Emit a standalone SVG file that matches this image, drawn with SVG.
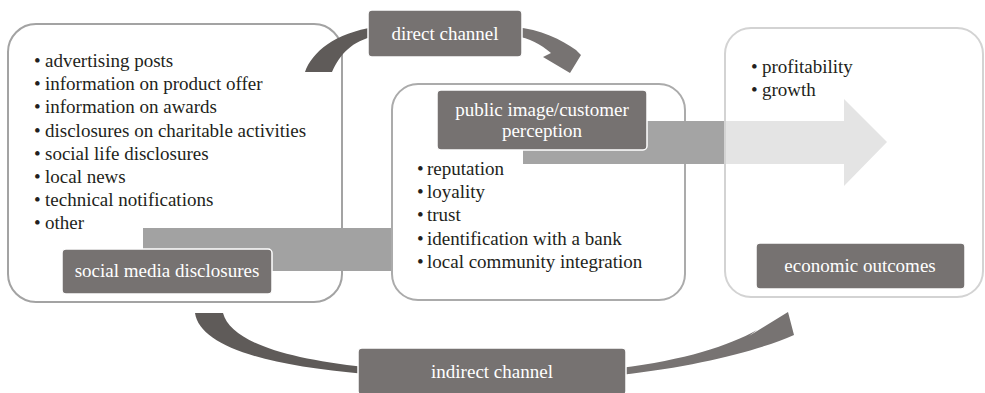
<svg xmlns="http://www.w3.org/2000/svg" width="985" height="393" viewBox="0 0 985 393">
<style>
.box{fill:#ffffff;stroke-width:2}
.lbl{fill:#767271;stroke:#ffffff;stroke-width:1.5}
.lt{font-size:19px;fill:#ffffff;text-anchor:middle}
.tx{font-size:19px;fill:#231f20}
.dark{fill:#5f5b59}
.mid{fill:#777372}
</style>
<rect width="985" height="393" fill="#ffffff"/>
<g font-family="Liberation Serif, Tinos, Times New Roman, DejaVu Serif, serif">
<g id="social-media-box">
<rect class="box" x="8" y="24" width="334" height="278" rx="28" stroke="#a3a3a3"/>
<g class="tx">
<text x="34" y="67">•</text><text x="45" y="67">advertising posts</text>
<text x="34" y="90">•</text><text x="45" y="90">information on product offer</text>
<text x="34" y="113">•</text><text x="45" y="113">information on awards</text>
<text x="34" y="137">•</text><text x="45" y="137">disclosures on charitable activities</text>
<text x="34" y="160">•</text><text x="45" y="160">social life disclosures</text>
<text x="34" y="183">•</text><text x="45" y="183">local news</text>
<text x="34" y="206">•</text><text x="45" y="206">technical notifications</text>
<text x="34" y="229">•</text><text x="45" y="229">other</text>
</g>
</g>
<g id="public-image-box">
<rect class="box" x="392" y="84" width="293" height="216" rx="26" stroke="#ababab"/>
<g class="tx">
<text x="417" y="175">•</text><text x="427" y="175">reputation</text>
<text x="417" y="198">•</text><text x="427" y="198">loyality</text>
<text x="417" y="221">•</text><text x="427" y="221">trust</text>
<text x="417" y="245">•</text><text x="427" y="245">identification with a bank</text>
<text x="417" y="268">•</text><text x="427" y="268">local community integration</text>
</g>
</g>
<g id="connectors">
<rect x="143" y="228" width="248" height="43" fill="#a2a2a2"/>
<polygon points="523,121 844,121 844,99 887,142 844,186 844,164 523,164" fill="#a4a4a4"/>
<path class="dark" d="M305,72 C312,52 335,33 375,27 L375,36 C352,41 340,54 332,72 Z"/>
<path class="mid" d="M515,27 C540,29 562,40 576,50 L581,55 L570,73 L543,57 L551,53 C540,44 530,38 515,36 Z"/>
<path class="dark" d="M195,313 C200,345 260,365 365,374 L365,367 C280,358 230,340 223,313 Z"/>
<path class="mid" d="M620,368 C685,360 728,346 757,330 L749,336 L788,312 L794,335 C760,350 700,366 620,375 Z"/>
</g>
<g id="economic-outcomes-box">
<rect x="725" y="28" width="258" height="269" rx="26" fill="#ffffff" fill-opacity="0.7" stroke="#d3d3d3" stroke-width="2"/>
<g class="tx">
<text x="751" y="73">•</text><text x="762" y="73">profitability</text>
<text x="751" y="96">•</text><text x="762" y="96">growth</text>
</g>
</g>
<g id="label-social-media">
<rect class="lbl" x="62" y="249" width="210" height="45" rx="4"/>
<text class="lt" x="167" y="277">social media disclosures</text>
</g>
<g id="label-public-image">
<rect class="lbl" x="437" y="90" width="210" height="60" rx="4"/>
<text class="lt" x="542" y="116">public image/customer</text>
<text class="lt" x="542" y="137">perception</text>
</g>
<g id="label-economic">
<rect class="lbl" x="756" y="243" width="209" height="46" rx="4"/>
<text class="lt" x="860" y="272">economic outcomes</text>
</g>
<g id="label-direct">
<rect class="lbl" x="368" y="10" width="154" height="47" rx="4"/>
<text class="lt" x="445" y="40">direct channel</text>
</g>
<g id="label-indirect">
<rect class="lbl" x="358" y="348" width="268" height="47" rx="4"/>
<text class="lt" x="492" y="378">indirect channel</text>
</g>
</g>
</svg>
